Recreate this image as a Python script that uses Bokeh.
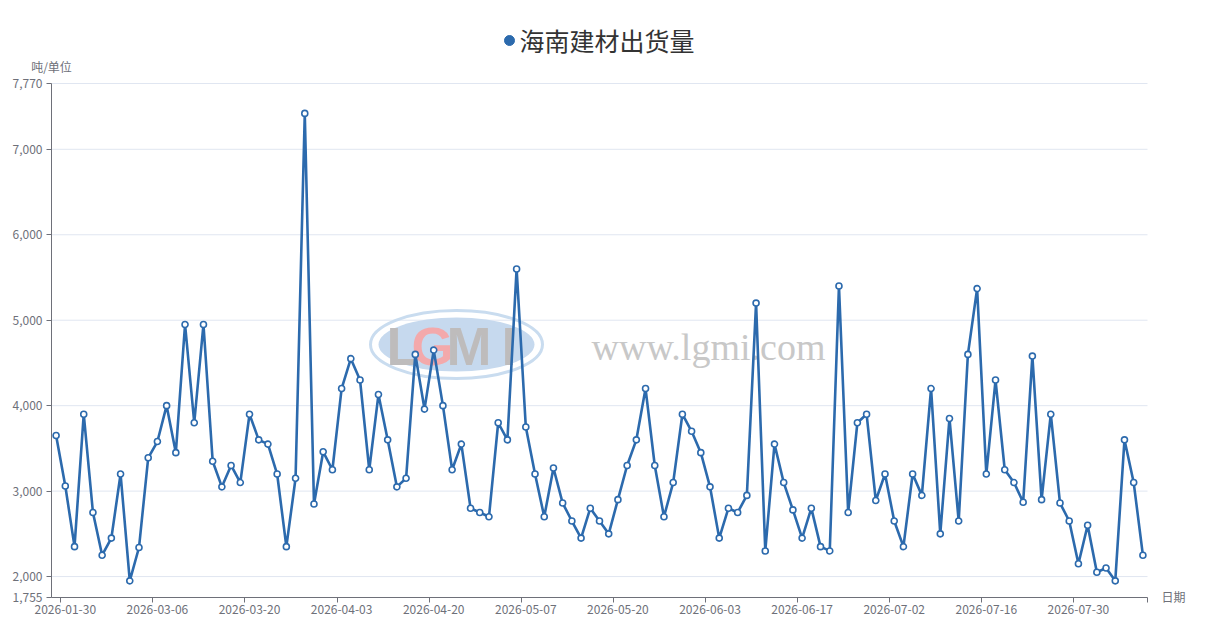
from bokeh.plotting import figure
from bokeh.models import FixedTicker, NumeralTickFormatter, Label, Range1d, ColumnDataSource
from bokeh.embed import file_html
from bokeh.resources import INLINE

# ---------------- data ----------------
title_text = "海南建材出货量"
y_unit = "吨/单位"
x_name = "日期"
tick_labels = ["2026-01-30", "2026-03-06", "2026-03-20", "2026-04-03", "2026-04-20",
               "2026-05-07", "2026-05-20", "2026-06-03", "2026-06-17", "2026-07-02",
               "2026-07-16", "2026-07-30"]
shipments = [
    3650, 3060, 2350, 3900, 2750, 2250, 2450, 3200, 1950, 2340,
    3390, 3580, 4000, 3450, 4950, 3800, 4950, 3350, 3050, 3300,
    3100, 3900, 3600, 3550, 3200, 2350, 3150, 7420, 2850, 3460,
    3250, 4200, 4550, 4300, 3250, 4130, 3600, 3050, 3150, 4600,
    3960, 4650, 4000, 3250, 3550, 2800, 2750, 2700, 3800, 3600,
    5600, 3750, 3200, 2700, 3270, 2860, 2650, 2450, 2800, 2650,
    2500, 2900, 3300, 3600, 4200, 3300, 2700, 3100, 3900, 3700,
    3450, 3050, 2450, 2800, 2750, 2950, 5200, 2300, 3550, 3100,
    2780, 2450, 2800, 2350, 2300, 5400, 2750, 3800, 3900, 2890,
    3200, 2650, 2350, 3200, 2950, 4200, 2500, 3850, 2650, 4600,
    5370, 3200, 4300, 3250, 3100, 2870, 4580, 2900, 3900, 2860,
    2650, 2150, 2600, 2050, 2100, 1950, 3600, 3100, 2250,
]
y_ticks = [1755, 2000, 3000, 4000, 5000, 6000, 7000, 7770]
label_step = 10
label_first = 1

# ---------------- styling / layout (pixels) ----------------
LINE = "#2c6aad"
AXIS = "#6e7079"
GRID = "#e0e6f1"
FONT = "Noto Sans CJK SC"
W, H = 1226, 617
PL, PR, PT, PB = 51, 1147, 83, 597      # plot area in canvas pixels

n = len(shipments)
idx = list(range(n))
label_idx = [label_first + label_step * k for k in range(len(tick_labels))]
src = ColumnDataSource(dict(x=idx, y=shipments))

# canvas-wide frame; plot area mapped to pixels PL..PR / PT..PB
x0d, x1d = -0.5, n - 0.5
y0d, y1d = y_ticks[0], y_ticks[-1]
kx = (PR - PL) / (x1d - x0d)
ky = (PB - PT) / (y1d - y0d)

def X(px):
    return x0d + (px - PL) / kx

def Y(py):
    return y0d + (PB - py) / ky

p = figure(frame_width=W, frame_height=H, output_backend="svg", toolbar_location=None,
           x_range=Range1d(X(0), X(W)), y_range=Range1d(Y(H), Y(0)),
           min_border_left=0, min_border_right=0, min_border_top=0, min_border_bottom=0,
           background_fill_color="white", border_fill_color="white")
p.outline_line_color = None
p.xgrid.visible = False
p.ygrid.visible = False

# horizontal grid lines limited to the plot area
p.segment(x0=[x0d] * len(y_ticks), x1=[x1d] * len(y_ticks), y0=y_ticks, y1=y_ticks,
          line_color=GRID, line_width=1, level="underlay")

# watermark (decoration)
p.ellipse(x=[X(456)], y=[Y(344)], width=172, height=68, width_units="screen", height_units="screen",
          fill_color=None, line_color="#c9dcef", line_width=3, level="underlay")
p.ellipse(x=[X(456)], y=[Y(344)], width=156, height=54, width_units="screen", height_units="screen",
          fill_color="#c6d9ee", line_color=None, level="underlay")
for ch, sx, col in [("L", 386, "#bebcbc"), ("G", 411, "#f3a9ab"), ("M", 446, "#bebcbc"), ("I", 501, "#bebcbc")]:
    p.add_layout(Label(x=X(sx), y=Y(345), text=ch, text_font="Liberation Sans",
                       text_font_style="bold", text_font_size="54px", text_color=col,
                       text_baseline="middle", text_align="left", level="underlay"))
p.add_layout(Label(x=X(591), y=Y(346), text="www.lgmi.com", text_font="Liberation Serif",
                   text_font_size="38px", text_color="#c8c8c8", text_baseline="middle",
                   text_align="left", level="underlay"))

# series
p.line("x", "y", source=src, line_color=LINE, line_width=2.6)
p.scatter("x", "y", source=src, marker="circle", size=6, fill_color="white",
          line_color=LINE, line_width=1.6)

# axes drawn at fixed locations inside the canvas-wide frame
xa = p.xaxis[0]
xa.fixed_location = y0d
xa.bounds = (x0d, x1d)
xa.ticker = FixedTicker(ticks=label_idx,
                        minor_ticks=[i - 0.5 for i in label_idx] + [x1d])
xa.major_label_overrides = {i: lab for i, lab in zip(label_idx, tick_labels)}
xa.major_tick_out = 0
xa.major_tick_in = 0
xa.minor_tick_out = 5
xa.minor_tick_in = 0
xa.minor_tick_line_color = AXIS
xa.major_label_standoff = 2

ya = p.yaxis[0]
ya.fixed_location = x0d
ya.bounds = (y0d, y1d)
ya.ticker = FixedTicker(ticks=y_ticks)
ya.formatter = NumeralTickFormatter(format="0,0")
ya.major_tick_out = 5
ya.major_tick_in = 0
ya.minor_tick_line_color = None
ya.major_label_standoff = 4

for ax in (xa, ya):
    ax.axis_line_color = AXIS
    ax.major_tick_line_color = AXIS
    ax.major_label_text_color = AXIS
    ax.major_label_text_font = FONT
    ax.major_label_text_font_size = "12px"

# title (legend-like) and axis names
p.scatter(x=[X(509)], y=[Y(40)], marker="circle", size=10, fill_color=LINE, line_color=LINE)
p.add_layout(Label(x=X(519), y=Y(39), text=title_text, text_font=FONT, text_font_size="25px",
                   text_color="#333333", text_align="left", text_baseline="middle"))
p.add_layout(Label(x=X(51), y=Y(66), text=y_unit, text_font=FONT, text_font_size="12px",
                   text_color=AXIS, text_align="center", text_baseline="middle"))
p.add_layout(Label(x=X(1161), y=Y(596), text=x_name, text_font=FONT, text_font_size="12px",
                   text_color=AXIS, text_align="left", text_baseline="middle"))

open("out.html", "w").write(file_html(p, INLINE))
